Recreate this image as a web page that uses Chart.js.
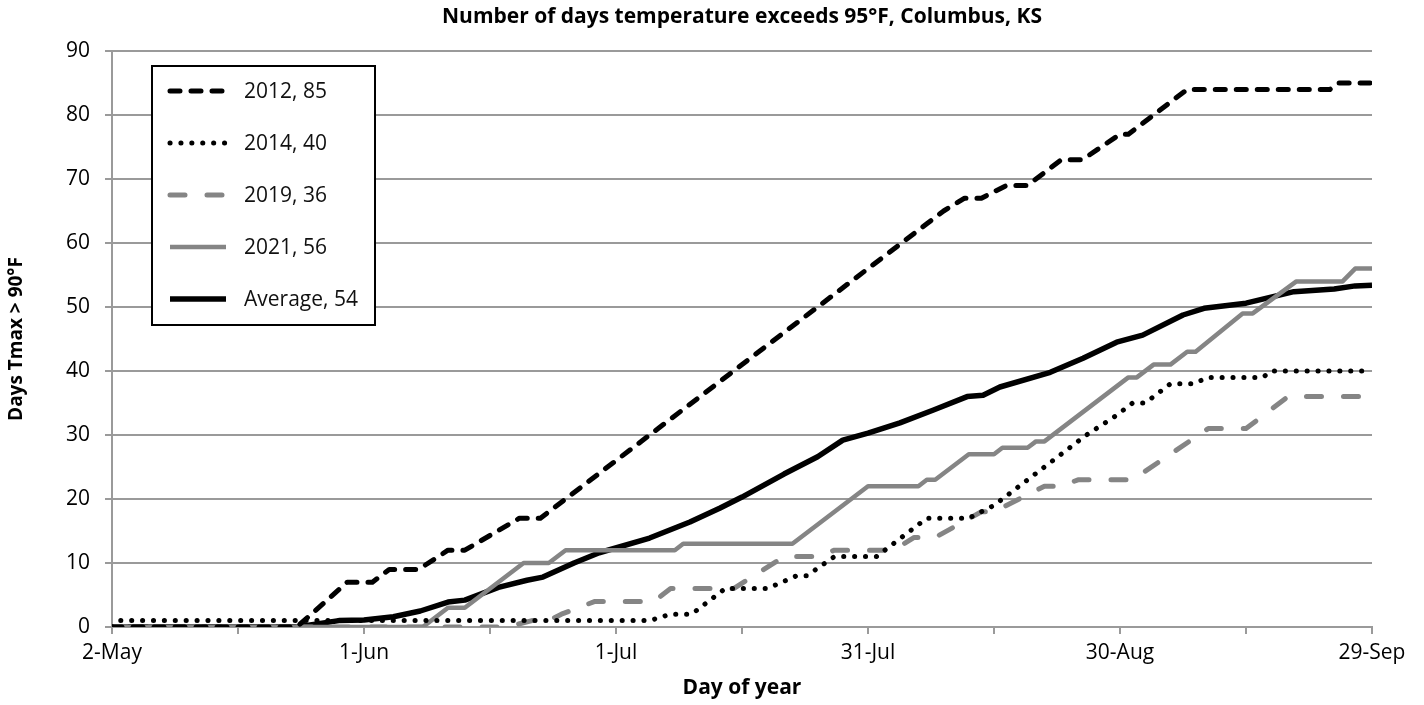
<!DOCTYPE html>
<html>
<head>
  <title>Days over 95F, Columbus KS</title>
  <script src="https://cdn.jsdelivr.net/npm/chart.js"></script>
  <style>
    body { margin: 0; background: #fff; }
  </style>
</head>
<body>
  <canvas id="myChart" width="1424" height="705"></canvas>
  <script>
    // x = days after 2-May, y = cumulative days
    const xTickLabels = ['2-May', '1-Jun', '1-Jul', '31-Jul', '30-Aug', '29-Sep'];
    const yTicks = [0, 10, 20, 30, 40, 50, 60, 70, 80, 90];

    const days2012 = [0, 22, 28, 31, 33, 36.5, 40, 42, 48.5, 51, 64, 77, 90, 97, 99, 101.5, 103.5, 106.5, 109, 113, 115.5, 120, 121, 128, 145, 146, 150];
    const vals2012 = [0, 0, 7, 7, 9, 9, 12, 12, 17, 17, 30, 43, 56, 63, 65, 67, 67, 69, 69, 73, 73, 77, 77, 84, 84, 85, 85];

    const days2014 = [0, 1, 64, 66.5, 69, 73, 78, 81.5, 82.7, 86, 91, 97, 102, 105, 116, 119.5, 121.5, 123, 126, 128.7, 130.5, 137, 138, 150];
    const vals2014 = [0, 1, 1, 2, 2, 6, 6, 8, 8, 11, 11, 17, 17, 19, 30, 33, 35, 35, 38, 38, 39, 39, 40, 40];

    const days2019 = [0, 47, 50, 52, 53.5, 57.5, 64.5, 66.5, 74, 80, 84, 86, 93, 95.5, 98, 103.5, 105, 111, 113, 115, 121.5, 130.5, 135, 140, 150];
    const vals2019 = [0, 0, 1, 1, 2, 4, 4, 6, 6, 11, 11, 12, 12, 14, 14, 18, 18, 22, 22, 23, 23, 31, 31, 36, 36];

    const days2021 = [0, 37, 40, 42, 49, 52, 54, 67, 68, 81, 90, 96, 97, 98, 102, 105, 106, 109, 110, 111, 121, 122, 124, 126, 128, 129, 134.6, 135.8, 141, 146.5, 148, 150];
    const vals2021 = [0, 0, 3, 3, 10, 10, 12, 12, 13, 13, 22, 22, 23, 23, 27, 27, 28, 28, 29, 29, 39, 39, 41, 41, 43, 43, 49, 49, 54, 54, 56, 56];

    const daysAvg = [0, 22, 27, 30, 33.5, 36.7, 40, 42, 46, 49.4, 51.3, 55, 58, 64, 68.8, 72.4, 75, 80, 84, 87, 90, 93.8, 97.8, 101.8, 103.7, 105.7, 111.7, 115.6, 119.6, 122.7, 127.5, 130, 135, 140.7, 145.5, 148, 150];
    const valsAvg = [0, 0, 1, 1.1, 1.6, 2.5, 3.9, 4.2, 6.2, 7.3, 7.8, 10, 11.6, 13.9, 16.4, 18.6, 20.3, 23.9, 26.6, 29.2, 30.3, 31.9, 33.9, 36, 36.2, 37.5, 39.8, 42, 44.5, 45.6, 48.75, 49.8, 50.6, 52.4, 52.8, 53.3, 53.4];

    const seriesNames = ['2012, 85', '2014, 40', '2019, 36', '2021, 56', 'Average, 54'];

    function pts(xs, ys) {
      return xs.map((x, i) => ({ x: x, y: ys[i] }));
    }

    const grey = '#858585';
    const gridGrey = '#9a9a9a';

    // legend drawn as a boxed key inside the plot, like the original
    const legendBox = {
      id: 'legendBox',
      afterDatasetsDraw(chart) {
        const c = chart.ctx;
        c.save();
        c.fillStyle = '#fff';
        c.fillRect(152, 66, 223, 259);
        c.lineWidth = 2;
        c.strokeStyle = '#000';
        c.strokeRect(152, 66, 223, 259);
        chart.data.datasets.forEach((ds, i) => {
          const y = 91 + i * 52;
          c.beginPath();
          c.setLineDash(ds.borderDash || []);
          c.lineCap = ds.borderCapStyle || 'butt';
          c.lineWidth = ds.borderWidth;
          c.strokeStyle = ds.borderColor;
          c.moveTo(170, y);
          c.lineTo(226, y);
          c.stroke();
          c.setLineDash([]);
          c.fillStyle = '#111';
          c.font = '21px "Open Sans"';
          c.textBaseline = 'middle';
          c.fillText(ds.label, 244, y + 1);
        });
        c.restore();
      }
    };

    const ctx = document.getElementById('myChart').getContext('2d');
    const chart = new Chart(ctx, {
      type: 'line',
      data: {
        datasets: [{
          label: seriesNames[0],
          data: pts(days2012, vals2012),
          borderColor: '#000',
          borderWidth: 5,
          borderDash: [10, 11],
          borderCapStyle: 'round'
        }, {
          label: seriesNames[1],
          data: pts(days2014, vals2014),
          borderColor: '#000',
          borderWidth: 5,
          borderDash: [0.1, 10.8],
          borderCapStyle: 'round'
        }, {
          label: seriesNames[2],
          data: pts(days2019, vals2019),
          borderColor: grey,
          borderWidth: 5,
          borderDash: [15, 22],
          borderCapStyle: 'round'
        }, {
          label: seriesNames[3],
          data: pts(days2021, vals2021),
          borderColor: grey,
          borderWidth: 4.5
        }, {
          label: seriesNames[4],
          data: pts(daysAvg, valsAvg),
          borderColor: '#000',
          borderWidth: 5.5
        }]
      },
      options: {
        responsive: false,
        animation: false,
        events: [],
        elements: {
          point: { radius: 0 },
          line: { tension: 0, borderJoinStyle: 'round', fill: false }
        },
        layout: { padding: { left: 0, right: 52, top: 0, bottom: 0 } },
        plugins: {
          legend: { display: false },
          tooltip: { enabled: false },
          title: { display: false }
        },
        scales: {
          x: {
            type: 'linear',
            min: 0,
            max: 150,
            afterFit: s => { s.height = 78; },
            ticks: {
              stepSize: 15,
              autoSkip: false,
              maxRotation: 0,
              padding: 6,
              color: '#000',
              font: { family: 'Open Sans', size: 21 },
              callback: v => (v % 30 === 0 ? xTickLabels[v / 30] : '')
            },
            grid: { drawOnChartArea: false, drawTicks: true, tickLength: 7, color: gridGrey, lineWidth: 2 },
            border: { display: true, color: gridGrey, width: 2 },
            title: {
              display: true,
              text: 'Day of year',
              color: '#000',
              font: { family: 'Open Sans', size: 21, weight: 'bold' },
              padding: { top: 0, bottom: 4 }
            }
          },
          // top axis only carries the chart title, centred over the plot area
          xTop: {
            type: 'linear',
            position: 'top',
            min: 0,
            max: 150,
            afterFit: s => { s.height = 51; },
            ticks: { display: false },
            grid: { display: false, drawTicks: false },
            border: { display: false },
            title: {
              display: true,
              text: 'Number of days temperature exceeds 95°F, Columbus, KS',
              color: '#000',
              font: { family: 'Open Sans', size: 21, weight: 'bold' },
              padding: { top: 4, bottom: 0 }
            }
          },
          y: {
            min: 0,
            max: 90,
            afterFit: s => { s.width = 112; },
            afterBuildTicks: s => { s.ticks = yTicks.map(v => ({ value: v })); },
            ticks: {
              padding: 15,
              color: '#000',
              font: { family: 'Open Sans', size: 21 }
            },
            grid: { color: gridGrey, lineWidth: 2, tickLength: 7 },
            border: { display: true, color: gridGrey, width: 2 },
            title: {
              display: true,
              text: 'Days Tmax > 90°F',
              color: '#000',
              font: { family: 'Open Sans', size: 19, weight: 'bold' },
              padding: { top: 5, bottom: 0 }
            }
          }
        }
      },
      plugins: [legendBox]
    });
  </script>
</body>
</html>
